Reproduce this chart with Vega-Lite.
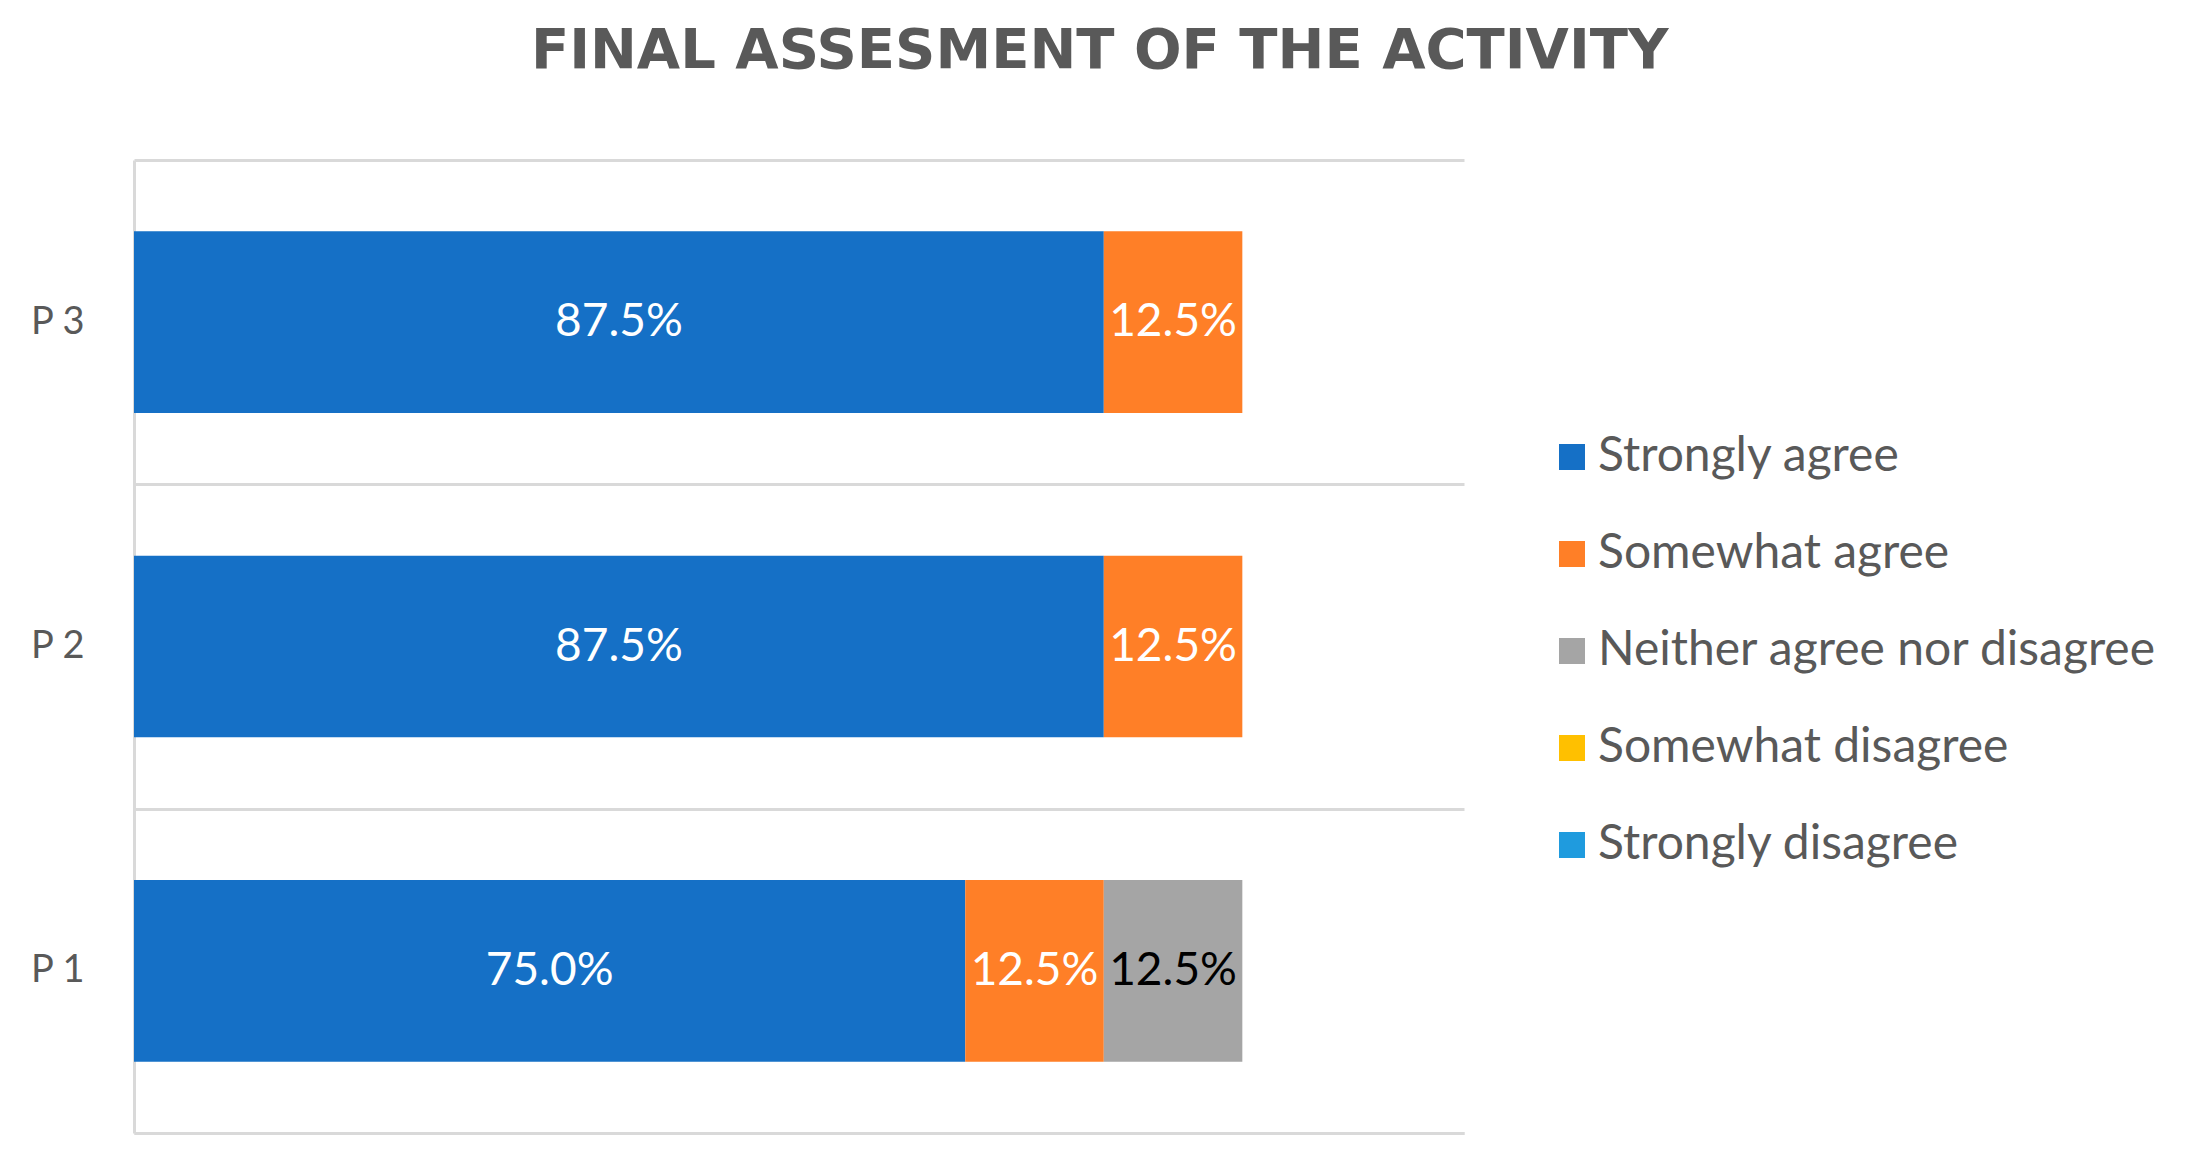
{
  "$schema": "https://vega.github.io/schema/vega-lite/v6.json",
  "width": 1330,
  "height": 973,
  "autosize": {"type": "none"},
  "padding": {"left": 134, "top": 160, "right": 723, "bottom": 38},
  "background": "white",
  "title": {
    "text": "FINAL ASSESMENT OF THE ACTIVITY",
    "font": "DejaVu Sans",
    "fontSize": 56,
    "fontWeight": "bold",
    "color": "#595959",
    "anchor": "middle",
    "frame": "bounds",
    "offset": 61,
    "dx": 6
  },
  "config": {"view": {"stroke": null}},
  "data": {
    "values": [
      {"p": "P 3", "cat": "Strongly agree", "rank": 1, "value": 0.875},
      {"p": "P 3", "cat": "Somewhat agree", "rank": 2, "value": 0.125},
      {"p": "P 2", "cat": "Strongly agree", "rank": 1, "value": 0.875},
      {"p": "P 2", "cat": "Somewhat agree", "rank": 2, "value": 0.125},
      {"p": "P 1", "cat": "Strongly agree", "rank": 1, "value": 0.75},
      {"p": "P 1", "cat": "Somewhat agree", "rank": 2, "value": 0.125},
      {"p": "P 1", "cat": "Neither agree nor disagree", "rank": 3, "value": 0.125}
    ]
  },
  "layer": [
    {
      "mark": {"type": "bar", "height": {"band": 0.56}},
      "encoding": {
        "y": {
          "field": "p",
          "type": "nominal",
          "scale": {"domain": ["P 3", "P 2", "P 1"], "paddingInner": 0, "paddingOuter": 0},
          "axis": {
            "title": null,
            "ticks": false,
            "tickSize": 0,
            "tickBand": "extent",
            "grid": true,
            "gridColor": "#d9d9d9",
            "gridWidth": 3,
            "domainColor": "#d9d9d9",
            "domainWidth": 3,
            "labelFont": "Lato",
            "labelFontSize": 38,
            "labelColor": "#595959",
            "labelPadding": 50
          }
        },
        "x": {
          "field": "value",
          "type": "quantitative",
          "stack": "zero",
          "scale": {"domain": [0, 1.2], "nice": false},
          "axis": {
            "title": null,
            "labels": false,
            "ticks": false,
            "grid": false,
            "domainColor": "#d9d9d9",
            "domainWidth": 3
          }
        },
        "color": {
          "field": "cat",
          "type": "nominal",
          "scale": {
            "domain": ["Strongly agree", "Somewhat agree", "Neither agree nor disagree", "Somewhat disagree", "Strongly disagree"],
            "range": ["#1570C6", "#FF7F27", "#A5A5A5", "#FFC000", "#1F9BDE"]
          },
          "legend": {
            "orient": "none",
            "legendX": 1414,
            "legendY": 273,
            "title": null,
            "symbolType": "square",
            "symbolSize": 676,
            "symbolStrokeWidth": 0,
            "labelFont": "Lato",
            "labelFontSize": 48,
            "labelColor": "#595959",
            "rowPadding": 49,
            "labelOffset": 2,
            "labelLimit": 1000
          }
        },
        "order": {"field": "rank", "type": "quantitative"}
      }
    },
    {
      "transform": [
        {"stack": "value", "groupby": ["p"], "sort": [{"field": "rank", "order": "ascending"}], "as": ["v0", "v1"]},
        {"fold": ["v0", "v1"], "as": ["edge", "pos"]}
      ],
      "mark": {"type": "text", "font": "Lato", "fontSize": 46, "baseline": "middle", "align": "center"},
      "encoding": {
        "y": {"field": "p", "type": "nominal"},
        "x": {"aggregate": "mean", "field": "pos", "type": "quantitative"},
        "text": {"field": "value", "type": "quantitative", "format": ".1%"},
        "detail": {"field": "cat"},
        "color": {
          "condition": {"test": "datum.cat === 'Neither agree nor disagree'", "value": "#000000"},
          "value": "#ffffff"
        }
      }
    }
  ]
}
